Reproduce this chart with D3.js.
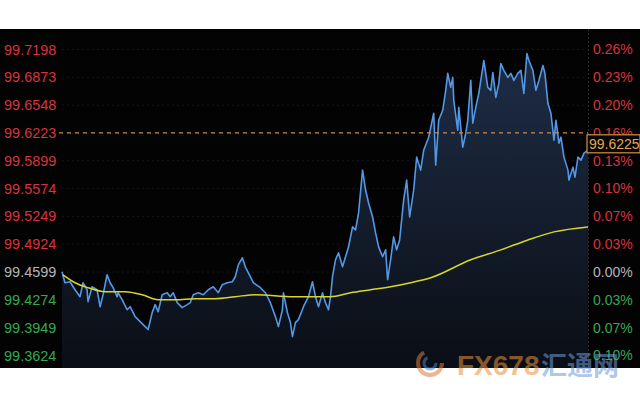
<!DOCTYPE html>
<html>
<head>
<meta charset="utf-8">
<script src="https://cdn.jsdelivr.net/npm/d3@7"></script>
<style>
  body { margin: 0; background: #fff; }
  svg { display: block; font-family: "Liberation Sans", Arial, sans-serif; }
</style>
</head>
<body>
<svg id="chart" width="640" height="400"></svg>
<script>
// price ticks (left) and change ticks (right)
const priceTicks = ['99.7198', '99.6873', '99.6548', '99.6223', '99.5899', '99.5574',
    '99.5249', '99.4924', '99.4599', '99.4274', '99.3949', '99.3624']
const pctTicks = ['0.26%', '0.23%', '0.20%', '0.16%', '0.13%', '0.10%',
    '0.07%', '0.03%', '0.00%', '0.03%', '0.07%', '0.10%']
const prevClose = 99.4599
const markPrice = 99.6225

// minute index, price
const price = [
    [0, 99.4602], [3, 99.4474], [8, 99.4485], [13, 99.4392], [18, 99.4311], [21, 99.4474],
    [25, 99.4392], [26, 99.4253], [30, 99.4427], [35, 99.4392], [38, 99.4194], [41, 99.4334],
    [45, 99.4567], [48, 99.4474], [51, 99.4416], [55, 99.4311], [56, 99.4357], [60, 99.4276],
    [65, 99.4159], [68, 99.4194], [73, 99.4078], [78, 99.4020], [83, 99.3962], [86, 99.3927],
    [90, 99.4125], [93, 99.4218], [96, 99.4136], [100, 99.4334], [105, 99.4357], [108, 99.4311],
    [111, 99.4357], [115, 99.4241], [120, 99.4183], [125, 99.4218], [128, 99.4241], [131, 99.4334],
    [136, 99.4357], [141, 99.4334], [146, 99.4392], [151, 99.4427], [156, 99.4357], [160, 99.4451],
    [165, 99.4474], [170, 99.4485], [173, 99.4544], [176, 99.4683], [180, 99.4765], [183, 99.4660],
    [186, 99.4590], [191, 99.4474], [198, 99.4416], [203, 99.4357], [208, 99.4241], [213, 99.4078],
    [216, 99.3962], [220, 99.4159], [221, 99.4357], [225, 99.4125], [228, 99.4008], [230, 99.3845],
    [233, 99.4008], [236, 99.4043], [241, 99.4194], [246, 99.4311], [250, 99.4485], [253, 99.4311],
    [256, 99.4194], [260, 99.4357], [263, 99.4241], [266, 99.4159], [268, 99.4311], [270, 99.4544],
    [273, 99.4742], [276, 99.4823], [280, 99.4660], [283, 99.4777], [286, 99.4893], [290, 99.5126],
    [293, 99.5091], [296, 99.5289], [300, 99.5789], [303, 99.5557], [306, 99.5405], [310, 99.5242],
    [313, 99.5056], [316, 99.4893], [320, 99.4777], [323, 99.4858], [325, 99.4509], [328, 99.4742],
    [331, 99.5009], [334, 99.4858], [337, 99.4974], [341, 99.5440], [344, 99.5673], [347, 99.5242],
    [351, 99.5557], [354, 99.5941], [358, 99.5789], [361, 99.6022], [366, 99.6174], [371, 99.6453],
    [373, 99.5848], [376, 99.6371], [380, 99.6488], [383, 99.6721], [385, 99.6919], [388, 99.6756],
    [390, 99.6872], [391, 99.6604], [395, 99.6255], [396, 99.6523], [400, 99.6057], [403, 99.6220],
    [405, 99.6371], [408, 99.6837], [410, 99.6337], [413, 99.6523], [416, 99.6686], [420, 99.6988],
    [421, 99.7070], [425, 99.6756], [428, 99.6721], [430, 99.6930], [433, 99.6639], [436, 99.6802],
    [438, 99.7035], [441, 99.6954], [445, 99.6872], [448, 99.6919], [451, 99.6837], [455, 99.6919],
    [458, 99.6954], [461, 99.6686], [464, 99.7151], [466, 99.7070], [470, 99.6954], [473, 99.6721],
    [476, 99.6837], [480, 99.7012], [482, 99.6919], [485, 99.6569], [488, 99.6453], [491, 99.6139],
    [493, 99.6371], [496, 99.6104], [498, 99.6174], [501, 99.5941], [505, 99.5789], [506, 99.5673],
    [510, 99.5824], [512, 99.5708], [515, 99.5941], [518, 99.5906], [521, 99.5987], [525, 99.6022]
]

// moving average
const avg = [
    [1, 99.4567], [13, 99.4474], [26, 99.4416], [43, 99.4369], [63, 99.4369], [80, 99.4334],
    [96, 99.4276], [113, 99.4276], [133, 99.4288], [153, 99.4288], [173, 99.4311], [193, 99.4334],
    [231, 99.4311], [268, 99.4311], [288, 99.4357], [308, 99.4392], [328, 99.4427], [348, 99.4474],
    [368, 99.4532], [408, 99.4742], [438, 99.4858], [465, 99.4974], [491, 99.5068], [525, 99.5126]
]

const svg = d3.select('#chart')
const width = 640, height = 400
const panel = { top: 29, bottom: 368 }
const margin = ({ left: 62, right: 52 })

const x = d3.scaleLinear()
    .domain([0, 525])
    .range([margin.left, width - margin.right])
const y = d3.scaleLinear()
    .domain([99.3624, 99.7198])
    .range([355.5, 49.5])

const red = '#d8323c', grey = '#b4b4b4', green = '#34a853'
const tickColor = v => v > prevClose + 1e-6 ? red : (v < prevClose - 1e-6 ? green : grey)

svg.append('rect')
    .attr('x', 0).attr('y', panel.top)
    .attr('width', width).attr('height', panel.bottom - panel.top)
    .attr('fill', '#030303')

const defs = svg.append('defs')
const grad = defs.append('linearGradient')
    .attr('id', 'fillGrad')
    .attr('gradientUnits', 'userSpaceOnUse')
    .attr('x1', 0).attr('x2', 0).attr('y1', 50).attr('y2', panel.bottom)
grad.append('stop').attr('offset', 0).attr('stop-color', '#1e2d46')
grad.append('stop').attr('offset', 1).attr('stop-color', '#0a0e15')

// faint grid
svg.append('g')
    .selectAll('line')
    .data(priceTicks)
    .join('line')
    .attr('x1', margin.left).attr('x2', width - margin.right)
    .attr('y1', d => y(+d)).attr('y2', d => y(+d))
    .attr('stroke', '#161616')
    .attr('stroke-dasharray', '2,3')

// right axis divider
svg.append('line')
    .attr('x1', width - margin.right + 0.5).attr('x2', width - margin.right + 0.5)
    .attr('y1', panel.top).attr('y2', panel.bottom)
    .attr('stroke', '#2a2a2a')
    .attr('stroke-dasharray', '2,2')

const area = d3.area()
    .x(d => x(d[0]))
    .y0(panel.bottom)
    .y1(d => y(d[1]))
svg.append('path')
    .datum(price)
    .attr('fill', 'url(#fillGrad)')
    .attr('d', area)

const line = d3.line()
    .x(d => x(d[0]))
    .y(d => y(d[1]))
svg.append('path')
    .datum(price)
    .attr('fill', 'none')
    .attr('stroke', '#5398e6')
    .attr('stroke-width', 1.6)
    .attr('stroke-linejoin', 'round')
    .attr('d', line)

svg.append('path')
    .datum(avg)
    .attr('fill', 'none')
    .attr('stroke', '#d8d62a')
    .attr('stroke-width', 1.5)
    .attr('d', line.curve(d3.curveMonotoneX))

// dashed mark line
svg.append('line')
    .attr('x1', 59).attr('x2', width - margin.right)
    .attr('y1', y(markPrice)).attr('y2', y(markPrice))
    .attr('stroke', '#d4883e')
    .attr('stroke-width', 1.2)
    .attr('stroke-dasharray', '4,4')

// left labels
svg.append('g')
    .selectAll('text')
    .data(priceTicks)
    .join('text')
    .attr('x', 4)
    .attr('y', d => y(+d))
    .attr('dy', '0.35em')
    .attr('font-size', 14.5)
    .attr('fill', d => tickColor(+d))
    .text(d => d)

// right labels
svg.append('g')
    .selectAll('text')
    .data(pctTicks)
    .join('text')
    .attr('x', width - margin.right + 5)
    .attr('y', (d, i) => y(+priceTicks[i]))
    .attr('dy', '0.35em')
    .attr('font-size', 14)
    .attr('fill', (d, i) => tickColor(+priceTicks[i]))
    .text(d => d)

// mark price box
const box = svg.append('g').attr('transform', `translate(${width - margin.right - 1},${y(markPrice) + 2})`)
box.append('rect')
    .attr('width', 53).attr('height', 18)
    .attr('fill', '#050505')
    .attr('stroke', '#d9913f')
    .attr('stroke-width', 1.2)
box.append('text')
    .attr('x', 2).attr('y', 9)
    .attr('dy', '0.35em')
    .attr('font-size', 14)
    .attr('fill', '#e3a657')
    .text(d3.format('.4f')(markPrice))

// watermark
const wm = svg.append('g').attr('opacity', 0.55)
wm.append('circle')
    .attr('cx', 430).attr('cy', 363).attr('r', 12)
    .attr('fill', 'none').attr('stroke', '#e07a3a').attr('stroke-width', 4)
    .attr('stroke-dasharray', '50,25')
wm.append('circle')
    .attr('cx', 430).attr('cy', 363).attr('r', 6)
    .attr('fill', 'none').attr('stroke', '#4a7ec8').attr('stroke-width', 3)
    .attr('stroke-dasharray', '25,12')
wm.append('text')
    .attr('x', 457).attr('y', 375)
    .attr('font-size', 28).attr('font-weight', 'bold')
    .attr('fill', '#e8913c')
    .text('FX678')
wm.append('text')
    .attr('x', 541).attr('y', 375)
    .attr('font-family', '"Noto Sans CJK SC"')
    .attr('font-size', 26).attr('font-weight', 'bold')
    .attr('fill', '#6f9ad8')
    .text('汇通网')
</script>
</body>
</html>
